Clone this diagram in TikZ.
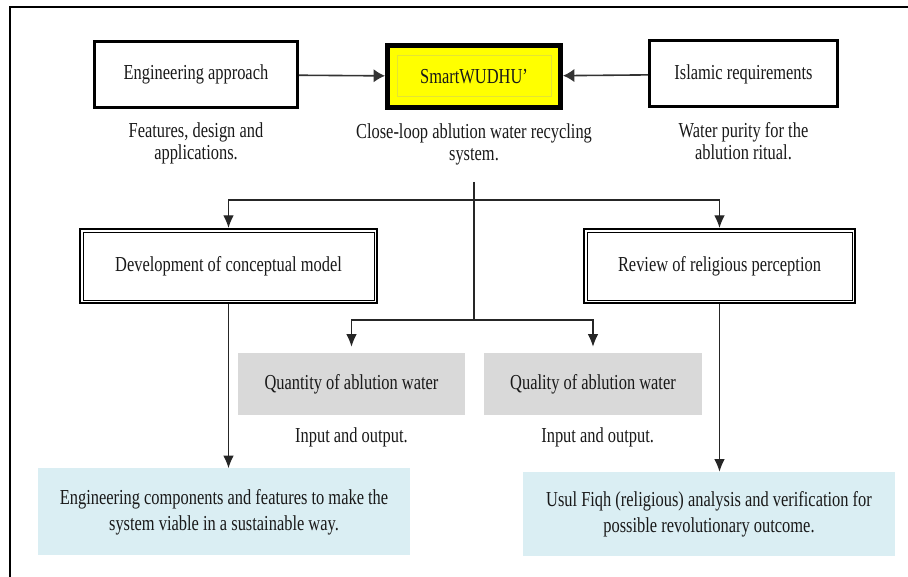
\documentclass[tikz,border=0pt]{standalone}
\usepackage{fontspec}
\setmainfont{Liberation Serif}[FakeStretch=0.77]
\usetikzlibrary{positioning}
\usetikzlibrary{arrows.meta}
\definecolor{corefill}{RGB}{255,255,0}
\definecolor{coreline}{RGB}{228,228,50}
\definecolor{panelgrey}{RGB}{217,217,217}
\definecolor{panelblue}{RGB}{218,238,243}
\tikzset{
  txt/.style={font=\fontsize{16}{16.5}\selectfont, align=center, text=black!90},
  sourcebox/.style={txt, draw, line width=2.25pt, minimum height=49.5pt},
  corebox/.style={txt, draw, fill=corefill, line width=3.75pt, minimum width=129.75pt, minimum height=46.5pt},
  stagebox/.style={txt, draw, line width=1.5pt, minimum height=55.5pt},
  aspectbox/.style={txt, fill=panelgrey, minimum height=46.5pt},
  outcomebox/.style={txt, fill=panelblue, font=\fontsize{16}{19.5}\selectfont},
  note/.style={txt, inner sep=0pt},
  feed/.style={-{Latex[length=8.5pt,width=10pt]}, line width=1.2pt, black!80},
  flow/.style={-{Latex[length=9.5pt,width=8pt]}, line width=0.9pt, black!85}
}

\begin{document}
\begin{tikzpicture}[x=0.75pt, y=-0.75pt, node distance=10pt]
\useasboundingbox (0,0) rectangle (908,577);

% frame
\draw[line width=1.5pt] (10,577) -- (10,7) -- (908,7);

% top row
\node[sourcebox, minimum width=152.25pt] (eng) at (196,74.5) {Engineering approach};
\node[corebox] (smart) at (474,76.5) {SmartWUDHU’};
\node[sourcebox, minimum width=141pt] (isl) at (743.5,74) {Islamic requirements};
\draw[coreline, line width=0.4pt] ([shift={(12,12)}]smart.north west) rectangle ([shift={(-12,-14)}]smart.south east);

\node[note, below=of eng] (engnote) {Features, design and\\applications.};
\node[note, below=of smart] (smartnote) {Close-loop ablution water recycling\\system.};
\node[note, below=of isl] (islnote) {Water purity for the\\ablution ritual.};

\draw[feed] (eng) -- (smart);
\draw[feed] (isl) -- (smart);

% second row
\node[stagebox, minimum width=222.75pt] (dev) at (228.5,266) {Development of conceptual model};
\node[stagebox, minimum width=203.25pt] (rev) at (719.5,266) {Review of religious perception};
\foreach \n in {dev,rev}
  \draw[line width=0.6pt] ([shift={(4,4)}]\n.north west) rectangle ([shift={(-4,-4)}]\n.south east);

% aspects
\node[aspectbox, minimum width=170.25pt] (qty) at (351.5,384) {Quantity of ablution water};
\node[aspectbox, minimum width=163.5pt] (qly) at (593,384) {Quality of ablution water};
\node[note, below=9pt of qty] (qtynote) {Input and output.};
\node[note, below=9pt of qly, xshift=3.5pt] (qlynote) {Input and output.};

% outcomes
\node[outcomebox, minimum width=279pt, minimum height=65.25pt] (comp) at (224,512)
  {Engineering components and features to make the\\system viable in a sustainable way.};
\node[outcomebox, minimum width=279pt, minimum height=63pt] (usul) at (709,514)
  {Usul Fiqh (religious) analysis and verification for\\possible revolutionary outcome.};

% branching
\coordinate (trunk) at (474,182);
\coordinate (split) at (474,200);
\coordinate (split2) at (474,320);
\draw[line width=0.9pt, black!85] (trunk) -- (split2);
\draw[flow] (split) -| (dev.north);
\draw[flow] (split) -| (rev.north);
\draw[flow, shorten >=4.5pt] (split2) -| (qty.north);
\draw[flow, shorten >=4.5pt] (split2) -| (qly.north);

\draw[flow] (dev.south) -- (dev.south |- comp.north);
\draw[flow] (rev.south) -- (rev.south |- usul.north);

\end{tikzpicture}
\end{document}
